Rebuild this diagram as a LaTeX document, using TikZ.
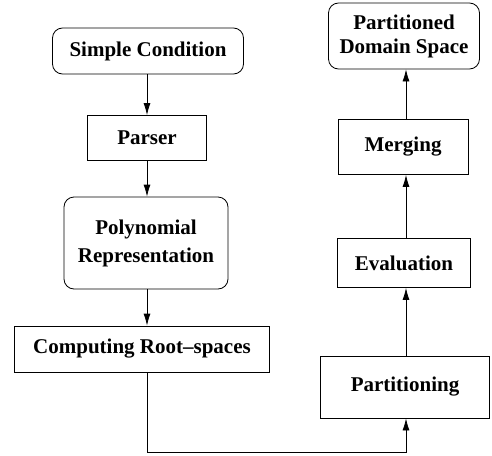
\documentclass[tikz,border=0pt]{standalone}
\usepackage{fontspec}
\setmainfont{Liberation Serif}
\usetikzlibrary{arrows.meta}

\tikzset{
  box/.style={draw, line width=0.8pt, font=\bfseries\fontsize{21}{26}\selectfont, align=center, inner sep=0pt},
  rbox/.style={box, rounded corners=10pt},
  flow/.style={line width=0.8pt, -{Latex[length=12pt,width=7pt]}}
}

\begin{document}
\begin{tikzpicture}[x=1pt,y=-1pt]
\useasboundingbox (0,0) rectangle (492,455);

% left column
\node[rbox, minimum width=191pt, minimum height=46pt] (cond) at (148,51) {Simple Condition};
\node[box, minimum width=119pt, minimum height=45pt] (parser) at (147,138) {Parser};
\node[rbox, minimum width=164pt, minimum height=92pt] (poly) at (146,243) {Polynomial\\[2pt]Representation};
\node[box, minimum width=255pt, minimum height=46pt] (roots) at (142,349) {Computing Root{\textendash}spaces};

% right column
\node[box, minimum width=169pt, minimum height=62pt] (part) at (405,387) {Partitioning};
\node[box, minimum width=133pt, minimum height=49pt] (eval) at (404,263) {Evaluation};
\node[box, minimum width=130pt, minimum height=55pt] (merge) at (403,147) {Merging};
\node[rbox, minimum width=151pt, minimum height=66pt] (space) at (404,36) {Partitioned\\[-2pt]Domain Space};

% Arrows showing data flow
\coordinate (rootsout) at (147,372);
\coordinate (corner1) at (147,452);
\coordinate (corner2) at (406,452);
\draw[flow] (cond.south -| parser) -- (parser.north);
\draw[flow] (parser.south) -- (poly.north -| parser);
\draw[flow] (poly.south -| parser) -- (roots.north -| parser);
\draw[flow] (rootsout) -- (corner1) -- (corner2) -- (part.south -| corner2);
\draw[flow] (part.north -| corner2) -- (eval.south -| corner2);
\draw[flow] (eval.north -| corner2) -- (merge.south -| corner2);
\draw[flow] (merge.north -| corner2) -- (space.south -| corner2);
\end{tikzpicture}
\end{document}
